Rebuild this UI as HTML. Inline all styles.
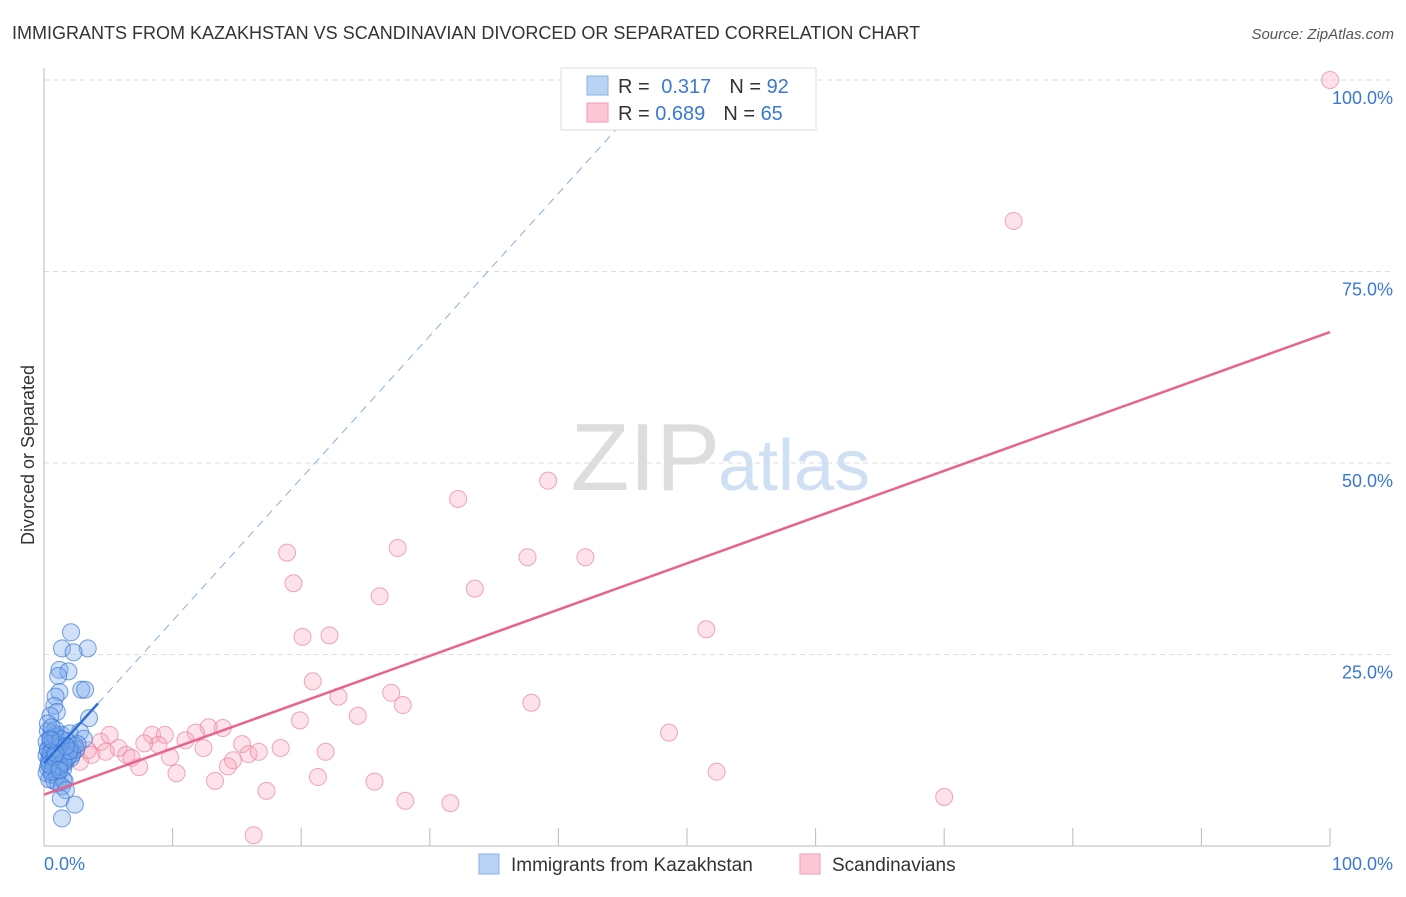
<!DOCTYPE html>
<html><head><meta charset="utf-8"><style>
body{margin:0;background:#fff;font-family:"Liberation Sans",sans-serif;}
svg text{font-family:"Liberation Sans",sans-serif;}
</style></head><body>
<svg id="chart" width="1406" height="892">
<text x="12" y="39" font-size="18" fill="#333">IMMIGRANTS FROM KAZAKHSTAN VS SCANDINAVIAN DIVORCED OR SEPARATED CORRELATION CHART</text>
<text x="1394" y="39" font-size="15" fill="#555" font-style="italic" text-anchor="end">Source: ZipAtlas.com</text>
<text x="720" y="490" font-size="96" fill="#ddd" text-anchor="end" font-family="Liberation Serif">ZIP</text>
<text x="718" y="490" font-size="72" fill="#cfe0f5">atlas</text>
<text transform="translate(34,455) rotate(-90)" font-size="18" fill="#333" text-anchor="middle">Divorced or Separated</text>
<g id="grid"></g><g id="axes"></g><g id="pts"></g><g id="lines"></g>
<g>
<rect x="561" y="68" width="255" height="62" fill="#fff" stroke="#ddd"/>
<rect x="587" y="76" width="21" height="19" fill="#b9d3f5" stroke="#8ab2e8"/>
<rect x="587" y="103" width="21" height="19" fill="#fcc8d7" stroke="#f09ab4"/>
<text x="618" y="93" font-size="20" fill="#333">R = <tspan fill="#3a78d6" dx="6">0.317</tspan><tspan dx="18" fill="#333">N = </tspan><tspan fill="#3a78d6">92</tspan></text>
<text x="618" y="120" font-size="20" fill="#333">R = <tspan fill="#3a78d6">0.689</tspan><tspan dx="18" fill="#333">N = </tspan><tspan fill="#3a78d6">65</tspan></text>
</g>
<g>
<rect x="479" y="854" width="20" height="20" fill="#b9d3f5" stroke="#8ab2e8"/>
<text x="511" y="871" font-size="19" fill="#333">Immigrants from Kazakhstan</text>
<rect x="800" y="854" width="20" height="20" fill="#fcc8d7" stroke="#f09ab4"/>
<text x="832" y="871" font-size="19" fill="#333">Scandinavians</text>
</g>
</svg>
<script>
const blueX=[2.1,1.4,3.4,2.3,1.2,1.9,1.1,1.2,2.9,3.2,0.9,0.8,1.0,3.5,0.5,0.3,0.6,0.9,1.4,2.0,2.8,3.1,0.2,0.5,0.8,1.2,1.6,2.0,2.4,0.3,0.6,1.0,1.4,1.8,2.2,0.2,0.5,0.9,1.3,1.7,2.1,0.4,0.8,1.2,1.6,0.3,0.7,1.1,1.5,0.2,0.6,1.0,0.4,0.8,1.5,1.6,1.1,1.4,1.7,1.3,2.4,1.4,0.3,0.7,1.0,1.3,0.5,0.9,1.8,2.5,0.4,1.2,0.6,2.2,1.0,0.7,1.9,0.5,1.5,0.9,0.3,2.6,1.1,0.8,0.4,1.3,0.6,2.0,1.7,0.9,1.2,0.5];
const blueY=[27.9,25.8,25.8,25.3,23.0,22.8,22.2,20.1,20.4,20.4,19.5,18.3,17.5,16.7,17.0,15.0,14.8,14.6,14.5,14.7,14.9,14.0,13.6,13.4,13.2,13.0,12.8,12.9,13.1,12.5,12.3,12.1,12.0,12.2,12.4,11.8,11.6,11.4,11.3,11.1,11.5,10.9,10.7,10.5,10.8,10.2,10.0,9.8,10.1,9.5,9.3,9.1,8.7,8.5,8.6,8.5,8.2,7.8,7.3,6.2,5.4,3.6,12.6,12.8,13.5,11.9,14.1,14.3,13.7,12.6,11.2,10.4,9.7,12.0,12.9,13.8,11.7,12.2,11.0,15.2,16.0,13.3,12.7,11.6,10.6,14.0,15.5,12.4,13.0,12.1,9.9,13.9];
const pinkX=[100,75.4,39.2,32.2,27.5,18.9,37.6,42.1,19.4,33.5,26.1,51.5,20.1,22.2,20.9,27.0,22.9,27.9,37.9,24.4,19.9,48.6,12.8,13.9,11.8,8.4,9.4,11.0,15.4,18.4,8.9,7.8,21.9,15.9,16.7,12.4,5.8,4.4,4.8,6.4,6.8,9.8,14.7,14.3,7.4,2.8,10.3,21.3,52.3,13.3,25.7,17.3,28.1,31.6,70.0,16.3,3.4,1.2,2.0,0.9,5.1,1.5,3.7,2.4];
const pinkY=[100,81.6,47.7,45.3,38.9,38.3,37.7,37.7,34.3,33.6,32.6,28.3,27.3,27.5,21.5,20.0,19.5,18.4,18.7,17.0,16.4,14.8,15.5,15.4,14.8,14.5,14.5,13.8,13.3,12.8,13.2,13.4,12.3,12.0,12.3,12.8,12.8,13.6,12.3,11.9,11.5,11.6,11.2,10.4,10.3,11.0,9.5,9.0,9.7,8.5,8.4,7.2,5.9,5.6,6.4,1.4,12.5,13.2,12.8,12.3,14.5,11.2,11.9,13.0];
const yTicks=[25,50,75,100];
const yTickLabels=["25.0%","50.0%","75.0%","100.0%"];
const blueLine=[10.8,1.86];   // intercept, slope
const pinkLine=[6.7,0.604];
const X0=44,X1=1330,Y0=846,Y1=80;
const sx=v=>X0+v/100*(X1-X0), sy=v=>Y0-v/100*(Y0-Y1);
const NS="http://www.w3.org/2000/svg";
function mk(p,t,a){const e=document.createElementNS(NS,t);for(const k in a)e.setAttribute(k,a[k]);p.appendChild(e);return e;}
const grid=document.getElementById('grid'),axes=document.getElementById('axes'),pts=document.getElementById('pts'),lines=document.getElementById('lines');
yTicks.forEach((t,i)=>{
 const g=mk(grid,'line',{x1:X0,x2:1394,y1:sy(t),y2:sy(t),stroke:'#ddd','stroke-dasharray':'5,4'});
 
 
 const l=mk(grid,'text',{x:1393,y:sy(t)+24,'font-size':18,fill:'#3a78d6','text-anchor':'end'});
 l.textContent=yTickLabels[i];
 
 
});
let a=mk(axes,'line',{x1:X0,x2:X0,y1:68,y2:Y0,stroke:'#bbb'});


a=mk(axes,'line',{x1:X0,x2:X1,y1:Y0,y2:Y0,stroke:'#bbb'});


for(let i=1;i<=10;i++){const t=mk(axes,'line',{x1:sx(i*10),x2:sx(i*10),y1:828,y2:Y0,stroke:'#bbb'});
 
 }
let tl=mk(axes,'text',{x:44,y:870,'font-size':18,fill:'#3a78d6'});tl.textContent='0.0%';


tl=mk(axes,'text',{x:1393,y:870,'font-size':18,fill:'#3a78d6','text-anchor':'end'});tl.textContent='100.0%';


pinkX.forEach((x,i)=>{const c=mk(pts,'circle',{cx:sx(x),cy:sy(pinkY[i]),r:8.5,fill:'rgba(248,160,185,0.3)',stroke:'rgba(235,130,160,0.7)','stroke-width':1});
 
 });
blueX.forEach((x,i)=>{const c=mk(pts,'circle',{cx:sx(x),cy:sy(blueY[i]),r:8.5,fill:'rgba(120,170,235,0.35)',stroke:'rgba(60,120,215,0.7)','stroke-width':1});
 
 });
let ln=mk(lines,'line',{x1:sx(0),y1:sy(pinkLine[0]),x2:sx(100),y2:sy(pinkLine[0]+pinkLine[1]*100),stroke:'#e8638f','stroke-width':2.5});


const xEnd=(100-blueLine[0])/blueLine[1];
ln=mk(lines,'line',{x1:sx(4.2),y1:sy(blueLine[0]+blueLine[1]*4.2),x2:sx(xEnd),y2:sy(100),stroke:'#8aaede','stroke-width':1,'stroke-dasharray':'8,6'});


ln=mk(lines,'line',{x1:sx(0),y1:sy(blueLine[0]),x2:sx(4.2),y2:sy(blueLine[0]+blueLine[1]*4.2),stroke:'#2d6fd6','stroke-width':2.5});


</script>
</body></html>
